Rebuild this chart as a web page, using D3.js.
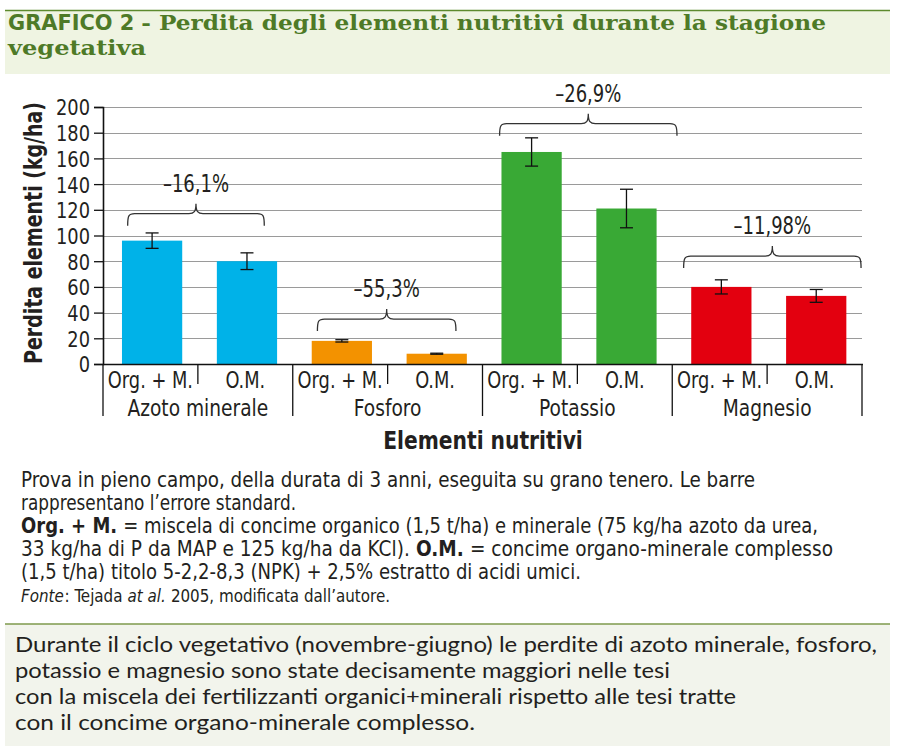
<!DOCTYPE html>
<html><head><meta charset="utf-8">
<script src="https://cdn.jsdelivr.net/npm/d3@7"></script>
<style>
html,body{margin:0;padding:0;background:#fff;}
svg{display:block;}
</style></head>
<body>
<svg id="c" width="898" height="748"></svg>
<script>
// ---- data ----
const groups = ["Azoto minerale", "Fosforo", "Potassio", "Magnesio"];
const treatments = ["Org. + M.", "O.M."];
const orgM = [96, 18, 165, 60];
const om = [80, 8, 121, 53];
const orgMErr = [6, 0.9, 11, 5.5];
const omErr = [6.5, 0.4, 15, 5];
const pctLabels = ["\u201316,1%", "\u201355,3%", "\u201326,9%", "\u201311,98%"];
const braceLevel = [117, 35, 187, 84];
const yTicks = [0, 20, 40, 60, 80, 100, 120, 140, 160, 180, 200];
const colors = ["#00b2e8", "#f39200", "#39a935", "#e3000f"];

// ---- layout ----
const braceSpan = [[0.26, 1.70], [0.26, 1.72], [0.18, 2.05], [0.12, 1.99]];
const COND = "'DejaVu Sans Condensed','DejaVu Sans',sans-serif";
const SERIF = "'DejaVu Serif',serif";
const ink = "#231f20";

function condense(sel, f) {
  sel.each(function () {
    const w = this.getComputedTextLength();
    d3.select(this).attr("textLength", w * f).attr("lengthAdjust", "spacingAndGlyphs");
  });
  return sel;
}

// draws a line made of separately styled runs, fitted to a total width
function runLine(parent, xStart, yBase, total, size, fill, runs) {
  const gap = 0.8;
  const els = runs.map(r => parent.append("text").attr("x", xStart).attr("y", yBase)
      .attr("font-size", size).attr("fill", fill)
      .attr("font-family", r.family || COND)
      .attr("font-weight", r.bold ? "bold" : "normal")
      .attr("font-style", r.italic ? "italic" : "normal")
      .text(r.text.trim()));
  const spaceW = size * 0.3;
  const widths = els.map(t => t.node().getComputedTextLength());
  const seps = runs.slice(1).map((r, i) => (/\s$/.test(runs[i].text) || /^\s/.test(r.text)) ? spaceW : gap);
  const sum = d3.sum(widths) + d3.sum(seps);
  const f = total / sum;
  let cx = xStart;
  els.forEach((t, i) => {
    t.attr("x", cx).attr("textLength", widths[i] * f).attr("lengthAdjust", "spacingAndGlyphs");
    cx += widths[i] * f + (i < seps.length ? seps[i] * f : 0);
  });
}

const svg = d3.select("#c");

// title box
svg.append("rect").attr("x", 5).attr("y", 10).attr("width", 885).attr("height", 64).attr("fill", "#eff4e2");
svg.append("line").attr("x1", 5).attr("x2", 890).attr("y1", 10.5).attr("y2", 10.5).attr("stroke", "#5d8a2e").attr("stroke-width", 1.5);
runLine(svg, 8, 30, 818, 21, "#4e7a27", [
  { text: "GRAFICO 2 ", bold: true, family: COND },
  { text: "- Perdita degli elementi nutritivi durante la stagione", bold: true, family: SERIF }
]);
runLine(svg, 8, 55, 138, 21, "#4e7a27", [{ text: "vegetativa", bold: true, family: SERIF }]);

// ---- chart ----
const x0 = 103, x1 = 862, yTop = 107, yBot = 364;
const cats = [];
groups.forEach(g => treatments.forEach(t => cats.push(g + "|" + t)));
const x = d3.scaleBand().domain(cats).range([x0, x1]).padding(0);
const bw = x.bandwidth();
const y = d3.scaleLinear().domain([0, 200]).range([yBot, yTop]);

// grid
svg.append("g").selectAll("line").data(yTicks.filter(d => d > 0)).join("line")
  .attr("x1", x0).attr("x2", x1).attr("y1", d => Math.round(y(d)) + 0.5).attr("y2", d => Math.round(y(d)) + 0.5)
  .attr("stroke", "#9a9a9a").attr("stroke-width", 1.2);

// y axis
const yAxis = d3.axisLeft(y).tickValues(yTicks).tickSize(9).tickPadding(4).tickFormat(d3.format("d"));
const ya = svg.append("g").attr("transform", `translate(${x0},0)`).call(yAxis);
ya.select(".domain").attr("stroke", "#111").attr("stroke-width", 1.6);
ya.selectAll(".tick line").attr("stroke", "#111").attr("stroke-width", 1.3);
condense(ya.selectAll(".tick text").attr("font-family", COND).attr("font-size", 22).attr("fill", ink).attr("dy", "0.36em"), 0.9);

// bars
const bars = [];
groups.forEach((g, i) => {
  bars.push({ key: g + "|" + treatments[0], v: orgM[i], e: orgMErr[i], c: colors[i] });
  bars.push({ key: g + "|" + treatments[1], v: om[i], e: omErr[i], c: colors[i] });
});
const barOff = bw * 0.2, barW = bw * 0.635;
svg.append("g").selectAll("rect").data(bars).join("rect")
  .attr("x", d => x(d.key) + barOff).attr("width", barW)
  .attr("y", d => y(d.v)).attr("height", d => y(0) - y(d.v))
  .attr("fill", d => d.c);

// error bars
const eg = svg.append("g").attr("stroke", "#111").attr("stroke-width", 1.3).attr("fill", "none");
bars.forEach(d => {
  const cx = x(d.key) + barOff + barW / 2;
  eg.append("line").attr("x1", cx).attr("x2", cx).attr("y1", y(d.v + d.e)).attr("y2", y(d.v - d.e));
  eg.append("line").attr("x1", cx - 6.5).attr("x2", cx + 6.5).attr("y1", y(d.v + d.e)).attr("y2", y(d.v + d.e));
  eg.append("line").attr("x1", cx - 6.5).attr("x2", cx + 6.5).attr("y1", y(d.v - d.e)).attr("y2", y(d.v - d.e));
});

// x axis line
svg.append("line").attr("x1", x0).attr("x2", x1 + 1).attr("y1", yBot + 0.5).attr("y2", yBot + 0.5)
  .attr("stroke", "#111").attr("stroke-width", 1.6);

// category ticks and labels
const xg = svg.append("g");
cats.forEach((c, i) => {
  const xs = x(c);
  const long = i % 2 === 0;
  xg.append("line").attr("x1", xs).attr("x2", xs).attr("y1", yBot).attr("y2", long ? 416 : 384)
    .attr("stroke", "#111").attr("stroke-width", 1.3);
  condense(xg.append("text").attr("x", xs + bw / 2).attr("y", 388).attr("text-anchor", "middle")
    .attr("font-family", COND).attr("font-size", 23).attr("fill", ink).text(c.split("|")[1]), 0.86);
});
xg.append("line").attr("x1", x1).attr("x2", x1).attr("y1", yBot).attr("y2", 416).attr("stroke", "#111").attr("stroke-width", 1.3);
groups.forEach((g, i) => {
  const gx = x(g + "|" + treatments[0]);
  condense(xg.append("text").attr("x", gx + bw).attr("y", 416).attr("text-anchor", "middle")
    .attr("font-family", COND).attr("font-size", 23).attr("fill", ink).text(g), 0.9);
});

// axis titles
condense(svg.append("text").attr("x", 483).attr("y", 449).attr("text-anchor", "middle")
  .attr("font-family", COND).attr("font-weight", "bold").attr("font-size", 25).attr("fill", ink)
  .text("Elementi nutritivi"), 0.9);
svg.append("text").attr("transform", "translate(42,233) rotate(-90)").attr("text-anchor", "middle")
  .attr("font-family", COND).attr("font-weight", "bold").attr("font-size", 25).attr("fill", ink)
  .attr("textLength", 262).attr("lengthAdjust", "spacingAndGlyphs")
  .text("Perdita elementi (kg/ha)");

// braces
const bg = svg.append("g");
groups.forEach((g, i) => {
  const gx = x(g + "|" + treatments[0]);
  const L = gx + braceSpan[i][0] * bw, R = gx + braceSpan[i][1] * bw;
  const M = (L + R) / 2;
  const yy = y(braceLevel[i]);
  const drop = 12, rise = 10, r = 7;
  const p = `M${L},${yy + drop} C${L},${yy + 2} ${L + 1},${yy} ${L + r},${yy} L${M - r},${yy} C${M - 2},${yy} ${M},${yy - 2} ${M},${yy - rise} C${M},${yy - 2} ${M + 2},${yy} ${M + r},${yy} L${R - r},${yy} C${R - 1},${yy} ${R},${yy + 2} ${R},${yy + drop}`;
  bg.append("path").attr("d", p).attr("fill", "none").attr("stroke", "#333").attr("stroke-width", 1.3);
  condense(bg.append("text").attr("x", M).attr("y", yy - 22).attr("text-anchor", "middle")
    .attr("font-family", COND).attr("font-size", 25).attr("fill", ink).text(pctLabels[i]), 0.8);
});

// ---- caption ----
const cg = svg.append("g");
runLine(cg, 21, 487, 734, 21, ink, [{ text: "Prova in pieno campo, della durata di 3 anni, eseguita su grano tenero. Le barre" }]);
runLine(cg, 21, 510, 275, 21, ink, [{ text: "rappresentano l\u2019errore standard." }]);
runLine(cg, 21, 533, 797, 21, ink, [
  { text: "Org. + M.", bold: true },
  { text: " = miscela di concime organico (1,5 t/ha) e minerale (75 kg/ha azoto da urea," }
]);
runLine(cg, 21, 556, 812, 21, ink, [
  { text: "33 kg/ha di P da MAP e 125 kg/ha da KCl). " },
  { text: "O.M.", bold: true },
  { text: " = concime organo-minerale complesso" }
]);
runLine(cg, 21, 579, 560, 21, ink, [{ text: "(1,5 t/ha) titolo 5-2,2-8,3 (NPK) + 2,5% estratto di acidi umici." }]);
runLine(cg, 21, 602, 369, 18, ink, [
  { text: "Fonte", italic: true },
  { text: ": Tejada " },
  { text: "at al.", italic: true },
  { text: " 2005, modificata dall\u2019autore." }
]);

// bottom box
svg.append("rect").attr("x", 5).attr("y", 624).attr("width", 885).attr("height", 122).attr("fill", "#f2f4ec");
svg.append("line").attr("x1", 5).attr("x2", 890).attr("y1", 624).attr("y2", 624).attr("stroke", "#7e9a4c").attr("stroke-width", 1.5);
const bottomLines = [
  ["Durante il ciclo vegetativo (novembre-giugno) le perdite di azoto minerale, fosforo,", 652, 862],
  ["potassio e magnesio sono state decisamente maggiori nelle tesi", 678, 655],
  ["con la miscela dei fertilizzanti organici+minerali rispetto alle tesi tratte", 704, 721],
  ["con il concime organo-minerale complesso.", 730, 460]
];
bottomLines.forEach(b => {
  svg.append("text").attr("x", 15).attr("y", b[1]).attr("font-family", "'Lato','Open Sans',sans-serif")
    .attr("font-size", 22).attr("fill", ink).attr("textLength", b[2]).attr("lengthAdjust", "spacingAndGlyphs")
    .text(b[0]);
});
</script>
</body></html>
